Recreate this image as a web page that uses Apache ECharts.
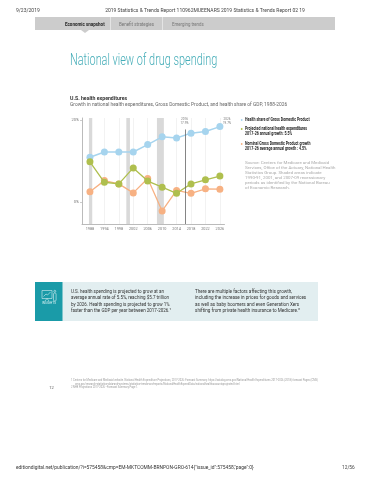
<!DOCTYPE html>
<html><head><meta charset="utf-8">
<style>html,body{margin:0;padding:0;background:#fff}#c{width:370px;height:480px}</style>
<script src="https://cdn.jsdelivr.net/npm/echarts@6/dist/echarts.min.js"></script>
</head><body><div id="c"></div>
<script>
const years=['1988','1994','1998','2002','2006','2010','2014','2018','2022','2026'];
const healthShare=[10.9,12.2,12.2,12.2,14.0,15.9,15.6,16.8,17.2,18.4];
const projectedNHE=[9.8,4.8,4.4,8.3,5.1,3.6,2.1,4.4,5.4,6.3];
const nominalGDP=[2.5,5.2,4.4,2.2,5.7,-2.2,2.8,2.1,3.2,3.1];
const recessions=[[-0.07,0.16],[2.52,2.77],[4.64,5.12]];
const projectionStart=6.6;
const font='Roboto,sans-serif';
const names=['Health share of Gross Domestic Product','Projected national health expenditures','Nominal Gross Domestic Product growth'];
const notes=['','2017-26 annual growth: 5.5%','2017-26 average annual growth : 4.5%'];
const colors=['#a6d4ee','#afbf4e','#f7b183'];
const sourceLines='Source: Centers for Medicare and Medicaid\nServices, Office of the Actuary, National Health\nStatistics Group. Shaded areas indicate\n1990-91, 2001, and 2007-09 recessionary\nperiods as identified by the National Bureau\nof Economic Research.';
const insightL='U.S. health spending is projected to grow at an\naverage annual rate of 5.5%, reaching $5.7 trillion\nby 2026. Health spending is projected to grow 1%\nfaster than the GDP per year between 2017-2026.\u00b9';
const insightR='There are multiple factors affecting this growth,\nincluding the increase in prices for goods and services\nas well as baby boomers and even Generation Xers\nshifting from private health insurance to Medicare.\u00b2';
const fn1='1 Centers for Medicare and Medicaid website. National Health Expenditure Projections, 2017-2026: Forecast Summary. https://catalog.cms.gov/National Health Expenditures 2017-2026 (2018) forecast Pages (CMS)';
const fn1b='cms.gov/research-statistics-data-and-systems/statistics-trends-and-reports/NationalHealthExpendData/nationalhealthaccountsprojected.html';
const fn2='2 NHE Projections 2017-2026 - Forecast Summary Page 1.';

const T=(x,y,text,size,fill,o={},sx=1)=>({type:'text',x,y,scaleX:sx,silent:true,style:Object.assign({text,fontSize:size,fill,fontFamily:font,textVerticalAlign:'middle',textAlign:'left'},o)});
const R=(x,y,w,h,fill)=>({type:'rect',shape:{x,y,width:w,height:h},style:{fill},silent:true});
const L=(x1,y1,x2,y2,col,w=0.7)=>({type:'line',shape:{x1,y1,x2,y2},style:{stroke:col,lineWidth:w},silent:true});
const ic='#d8f0f2';

const graphics=[
 T(16,11,'9/23/2019',5,'#444'),
 T(205,11,'2019 Statistics & Trends Report 110962MUEENARS 2019 Statistics & Trends Report 02 19',5,'#444',{textAlign:'center'}),
 R(35,17,300,13,'#cccccc'),
 R(110,17,1,13,'#e4e4e4'),R(162,17,1,13,'#e4e4e4'),
 {type:'polygon',shape:{points:[[81,30],[89,30],[85,33]]},style:{fill:'#cccccc'},silent:true},
 T(65,24.5,'Economic snapshot',5.3,'#222',{fontWeight:'bold'},0.85),
 T(119,24.5,'Benefit strategies',5.3,'#777',{},0.85),
 T(172,24.5,'Emerging trends',5.3,'#777',{},0.82),
 T(70,61,'National view of drug spending',16.5,'#45adb8',{fontWeight:300},0.66),
 T(70,98,'U.S. health expenditures',6.2,'#333',{fontWeight:'bold'},0.84),
 T(70,105,'Growth in national health expenditures, Gross Domestic Product, and health share of GDP, 1988-2026',5.8,'#666',{},0.84),
 T(184.5,121,'2016\n17.9%',3.6,'#777',{textAlign:'center',lineHeight:4.6},0.85),
 T(227,121,'2026\n19.7%',3.6,'#777',{textAlign:'center',lineHeight:4.6},0.85),
 {type:'circle',shape:{cx:241.7,cy:120,r:0.9},style:{fill:colors[0]},silent:true},
 {type:'circle',shape:{cx:241.7,cy:129,r:0.9},style:{fill:colors[1]},silent:true},
 {type:'circle',shape:{cx:241.7,cy:144,r:0.9},style:{fill:colors[2]},silent:true},
 T(245,120,names[0],4.6,'#222',{fontWeight:'bold'},0.78),
 T(245,129,names[1],4.6,'#222',{fontWeight:'bold'},0.78),
 T(245,134,notes[1],4.6,'#222',{fontWeight:'bold'},0.78),
 T(245,144,names[2],4.6,'#222',{fontWeight:'bold'},0.78),
 T(245,149,notes[2],4.6,'#222',{fontWeight:'bold'},0.78),
 T(245,175,sourceLines,4.4,'#aaa',{lineHeight:5}),
 R(35,282,283,39,'#e2eef0'),
 R(35,282,27.5,39,'#1a9ba8'),
 {type:'rect',shape:{x:42,y:290.5,width:10,height:8},style:{fill:'none',stroke:ic,lineWidth:0.6},silent:true},
 {type:'polyline',shape:{points:[[43.5,296.5],[46,294],[47.5,295],[50.5,292]]},style:{fill:'none',stroke:ic,lineWidth:0.6},silent:true},
 L(47,298.5,45,301,ic,0.6),L(47,298.5,49,301,ic,0.6),
 {type:'rect',shape:{x:53.5,y:293,width:2.6,height:8,r:1},style:{fill:'none',stroke:ic,lineWidth:0.6},silent:true},
 {type:'circle',shape:{cx:54.8,cy:291.3,r:1},style:{fill:'none',stroke:ic,lineWidth:0.6},silent:true},
 T(49,303.5,'INSIGHTS',3.2,ic,{textAlign:'center'}),
 T(71,301,insightL,5.2,'#333',{lineHeight:6.4},0.87),
 T(195,301,insightR,5.2,'#333',{lineHeight:6.4},0.89),
 T(71,380,fn1,3.1,'#999',{},0.84),
 T(75,384,fn1b,3.1,'#999',{},0.84),
 T(71,387.5,fn2,3.1,'#999',{},0.84),
 T(51.5,387.5,'12',4,'#555',{textAlign:'center'}),
 T(16,468,'editiondigital.net/publication/?i=575458&cmp=EM-MKTCOMM-BRNPON-GRO-614{"issue_id":575458,"page":0}',4.9,'#333'),
 T(342,468,'12/56',4.8,'#444')
];

const idx=years.map((_,i)=>i);
const pts=a=>a.map((v,i)=>[i,v]);
const mk=(name,data,color,extra={})=>Object.assign({name,type:'line',data:pts(data),symbol:'circle',symbolSize:7,showSymbol:true,
  lineStyle:{color,width:1.3},itemStyle:{color},emphasis:{disabled:true},animation:false},extra);

const chart=echarts.init(document.getElementById('c'),null,{renderer:'canvas'});
chart.setOption({
 animation:false,
 backgroundColor:'#fff',
 graphic:graphics,
 grid:{left:82,top:118,width:142.5,height:106,containLabel:false},
 xAxis:{type:'value',min:-0.55,max:9.32,
   axisLine:{show:true,onZero:false,lineStyle:{color:'#aaa',width:0.8}},
   axisTick:{show:false,customValues:idx},
   axisLabel:{customValues:idx,formatter:v=>years[Math.round(v)]||'',fontSize:3.8,color:'#777',margin:3.5,fontFamily:font},
   splitLine:{show:true,lineStyle:{color:'#ececec',width:0.7}}},
 yAxis:{type:'value',min:-5.4,max:20.5,
   axisLine:{show:true,onZero:false,lineStyle:{color:'#aaa',width:0.8}},
   axisTick:{show:true,length:2,customValues:[0,20],lineStyle:{color:'#aaa',width:0.6}},
   axisLabel:{customValues:[0,20],formatter:v=>v+'%',fontSize:4,color:'#777',margin:3,fontFamily:font},
   splitLine:{show:false}},
 series:[
  mk(names[2],nominalGDP,colors[2],{z:3}),
  mk(names[0],healthShare,colors[0],{z:3,lineStyle:{color:colors[0],width:1.5},
    markArea:{silent:true,itemStyle:{color:'#d9d9d9'},data:recessions.map(r=>[{xAxis:r[0]},{xAxis:r[1]}])},
    markLine:{silent:true,symbol:'none',label:{show:false},lineStyle:{color:'#666',width:0.8,type:'solid'},data:[[{coord:[projectionStart,-5.4]},{coord:[projectionStart,17.7]}]]}}),
  mk(names[1],projectedNHE,colors[1],{z:4})
 ]
});
</script></body></html>
